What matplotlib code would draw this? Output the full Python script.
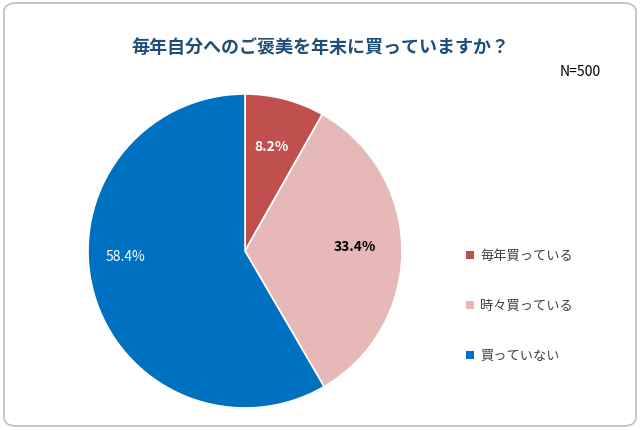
import matplotlib
matplotlib.use("Agg")
import matplotlib.pyplot as plt
from matplotlib.patches import FancyBboxPatch

plt.rcParams["font.family"] = "Noto Sans CJK JP"

labels = ["毎年買っている", "時々買っている", "買っていない"]
values = [8.2, 33.4, 58.4]
colors = ["#C0504D", "#E6B9B8", "#0070C0"]
title = "毎年自分へのご褒美を年末に買っていますか？"
note = "N=500"

W, H = 640, 431
fig = plt.figure(figsize=(W/100, H/100), dpi=100)
frame = FancyBboxPatch((4/W, 4/H), 1-8/W, 1-8/H, boxstyle="round,pad=0,rounding_size=0.02",
                       transform=fig.transFigure, fc="white", ec="#BFBFBF", lw=1.2, zorder=-10)
fig.patches.append(frame)

cx, cy, r = 245, 252, 157
ax = fig.add_axes([(cx-r)/W, 1-(cy+r)/H, 2*r/W, 2*r/H], zorder=5)
ax.patch.set_visible(False)
wedges, _ = ax.pie(values, colors=colors, startangle=90, counterclock=False,
                   wedgeprops=dict(edgecolor="white", linewidth=1.2))
ax.set_aspect("auto")
ax.set_xlim(-1, 1); ax.set_ylim(-1, 1)
pos = [(0.17, 0.67), (0.70, 0.03), (-0.76, -0.03)]
tcol = ["white", "black", "white"]
weights = ["bold", "bold", "normal"]
for (x, y), v, c, w in zip(pos, values, tcol, weights):
    ax.text(x, y, f"{v}%", ha="center", va="center", color=c, fontsize=10, fontweight=w)

fig.text(0.5, 1-47/H, title, ha="center", va="center", fontsize=13, fontweight="bold", color="#1F4E79")
fig.text(580/W, 1-72/H, note, ha="center", va="center", fontsize=10, color="black")
for i, (lab, c) in enumerate(zip(labels, colors)):
    y = 1-(256+i*50)/H
    fig.patches.append(plt.Rectangle((466/W, y-4/H), 8/W, 8/H, transform=fig.transFigure, fc=c, ec="none"))
    fig.text(480/W, y, lab, ha="left", va="center", fontsize=9.5, color="#404040")

fig.savefig("out.png", dpi=100)
